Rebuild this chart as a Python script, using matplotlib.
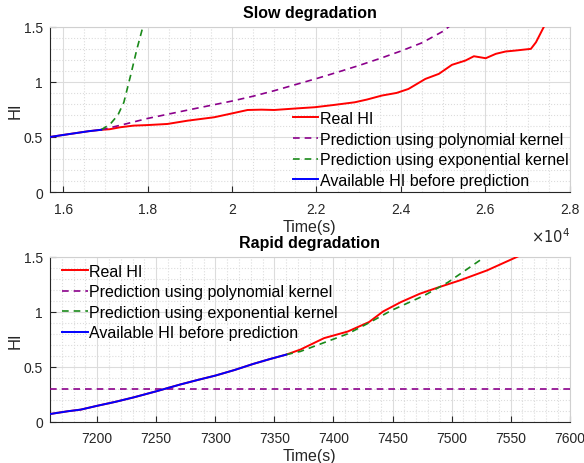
import numpy as np
import matplotlib
matplotlib.use("Agg")
import matplotlib.pyplot as plt
from matplotlib.ticker import FuncFormatter, MultipleLocator

plt.rcParams["font.family"] = ["Liberation Sans", "DejaVu Sans"]
plt.rcParams["font.size"] = 10

# ---- slow degradation (top) ----
slow_avail_t = [15690, 16000, 16300, 16600, 16900]
slow_avail_hi = [0.500, 0.518, 0.535, 0.552, 0.565]

slow_real_t = [15690, 16000, 16300, 16600, 16900, 17100, 17350, 17670, 18000,
               18470, 18950, 19580, 20050, 20370, 20700, 21000, 21560, 21960,
               22400, 22910, 23200, 23550, 23900, 24180, 24580, 24900, 25210,
               25530, 25730, 26010, 26250, 26480, 26720, 27080, 27200, 27320,
               27400]
slow_real_hi = [0.500, 0.518, 0.535, 0.552, 0.565, 0.570, 0.588, 0.603, 0.608,
                0.618, 0.648, 0.679, 0.718, 0.745, 0.748, 0.745, 0.760, 0.770,
                0.790, 0.815, 0.840, 0.876, 0.900, 0.936, 1.027, 1.073, 1.155,
                1.194, 1.233, 1.215, 1.255, 1.276, 1.285, 1.300, 1.360, 1.450,
                1.510]

slow_poly_t = [16900, 17200, 17500, 18000, 18500, 19000, 19500, 20000, 20500,
               21000, 21500, 22000, 22500, 23000, 23500, 24000, 24500, 25000,
               25200]
slow_poly_hi = [0.565, 0.592, 0.620, 0.668, 0.708, 0.748, 0.787, 0.826, 0.870,
                0.920, 0.975, 1.030, 1.088, 1.148, 1.212, 1.280, 1.355, 1.460,
                1.520]

slow_exp_t = [16900, 17120, 17300, 17440, 17600, 17750, 17890]
slow_exp_hi = [0.565, 0.618, 0.700, 0.815, 1.060, 1.300, 1.500]

# ---- rapid degradation (bottom) ----
rapid_avail_t = [7160, 7175, 7186, 7200, 7215, 7231, 7250, 7270, 7285, 7300,
                 7316, 7332, 7346, 7360]
rapid_avail_hi = [0.070, 0.095, 0.110, 0.145, 0.180, 0.222, 0.277, 0.338,
                  0.380, 0.420, 0.470, 0.526, 0.570, 0.611]

rapid_real_t = rapid_avail_t + [7372, 7392, 7412, 7430, 7442, 7457, 7473,
                                7487, 7507, 7530, 7557]
rapid_real_hi = rapid_avail_hi + [0.657, 0.761, 0.821, 0.907, 1.004, 1.089,
                                  1.165, 1.217, 1.287, 1.378, 1.509]

rapid_poly_t = [7160, 7600]
rapid_poly_hi = [0.3, 0.3]

rapid_exp_t = [7360, 7372, 7412, 7430, 7449, 7477, 7497, 7526]
rapid_exp_hi = [0.611, 0.640, 0.800, 0.900, 1.013, 1.150, 1.270, 1.485]

labels = ["Real HI", "Prediction using polynomial kernel",
          "Prediction using exponential kernel",
          "Available HI before prediction"]

RED = "#ff0000"
PURPLE = "#8b008b"
GREEN = "#1a8a1a"
BLUE = "#0000ff"
TXT = "#262626"
BIG = 11.5


def style_axes(ax):
    ax.grid(True, which="major", color="#dcdcdc", linewidth=0.8)
    ax.grid(True, which="minor", color="#dcdcdc", linestyle=":", linewidth=0.8)
    ax.set_axisbelow(True)
    for s in ["top", "right"]:
        ax.spines[s].set_color("#d0d0d0")
    for s in ["left", "bottom"]:
        ax.spines[s].set_color(TXT)
    ax.tick_params(which="major", direction="in", length=4, colors=TXT,
                   labelsize=10, top=False, right=False)
    ax.tick_params(axis="x", pad=7)
    ax.tick_params(axis="y", pad=5)
    ax.tick_params(which="minor", length=0)
    ax.set_ylim(0, 1.5)
    ax.yaxis.set_major_locator(MultipleLocator(0.5))
    ax.yaxis.set_minor_locator(MultipleLocator(0.1))
    ax.yaxis.set_major_formatter(FuncFormatter(lambda v, p: "%g" % v))
    ax.set_ylabel("HI", color=TXT, fontsize=12, labelpad=1)
    ax.set_xlabel("Time(s)", color=TXT, fontsize=BIG, labelpad=2)


def draw(ax, real_t, real_hi, poly_t, poly_hi, exp_t, exp_hi, av_t, av_hi):
    h1, = ax.plot(real_t, real_hi, color=RED, lw=1.4, zorder=3)
    h2, = ax.plot(poly_t, poly_hi, color=PURPLE, lw=1.2, ls=(0, (4, 3)), zorder=4)
    h3, = ax.plot(exp_t, exp_hi, color=GREEN, lw=1.2, ls=(0, (4, 3)), zorder=4)
    h4, = ax.plot(av_t, av_hi, color=BLUE, lw=1.4, zorder=5)
    return [h1, h2, h3, h4]


fig = plt.figure(figsize=(5.84, 4.64), dpi=100)
ax1 = fig.add_axes([0.0856, 0.584, 0.890, 0.356])
ax2 = fig.add_axes([0.0856, 0.089, 0.890, 0.355])

# top
hs = draw(ax1, slow_real_t, slow_real_hi, slow_poly_t, slow_poly_hi,
          slow_exp_t, slow_exp_hi, slow_avail_t, slow_avail_hi)
style_axes(ax1)
ax1.set_xlim(15690, 28000)
ax1.xaxis.set_major_locator(MultipleLocator(2000))
ax1.xaxis.set_minor_locator(MultipleLocator(500))
ax1.xaxis.set_major_formatter(FuncFormatter(lambda v, p: "%g" % (v / 1e4)))
ax1.set_title("Slow degradation", fontweight="bold", fontsize=BIG, pad=7)
ax1.text(1.0, -0.265, r"$\times10^4$", transform=ax1.transAxes, ha="right",
         va="center", color=TXT, fontsize=10.5)
ax1.legend(hs, labels, loc="upper left", bbox_to_anchor=(0.467, 0.49),
           frameon=False, borderpad=0, borderaxespad=0, handlelength=1.6,
           handletextpad=0.1, labelspacing=0.35, fontsize=BIG)

# bottom
hs = draw(ax2, rapid_real_t, rapid_real_hi, rapid_poly_t, rapid_poly_hi,
          rapid_exp_t, rapid_exp_hi, rapid_avail_t, rapid_avail_hi)
style_axes(ax2)
ax2.set_xlim(7160, 7600)
ax2.xaxis.set_major_locator(MultipleLocator(50))
ax2.xaxis.set_minor_locator(MultipleLocator(10))
ax2.xaxis.set_major_formatter(FuncFormatter(lambda v, p: "%g" % v))
ax2.set_title("Rapid degradation", fontweight="bold", fontsize=BIG, pad=7)
ax2.legend(hs, labels, loc="upper left", bbox_to_anchor=(0.023, 0.96),
           frameon=False, borderpad=0, borderaxespad=0, handlelength=1.6,
           handletextpad=0.1, labelspacing=0.35, fontsize=BIG)

fig.savefig("out.png", dpi=100)
